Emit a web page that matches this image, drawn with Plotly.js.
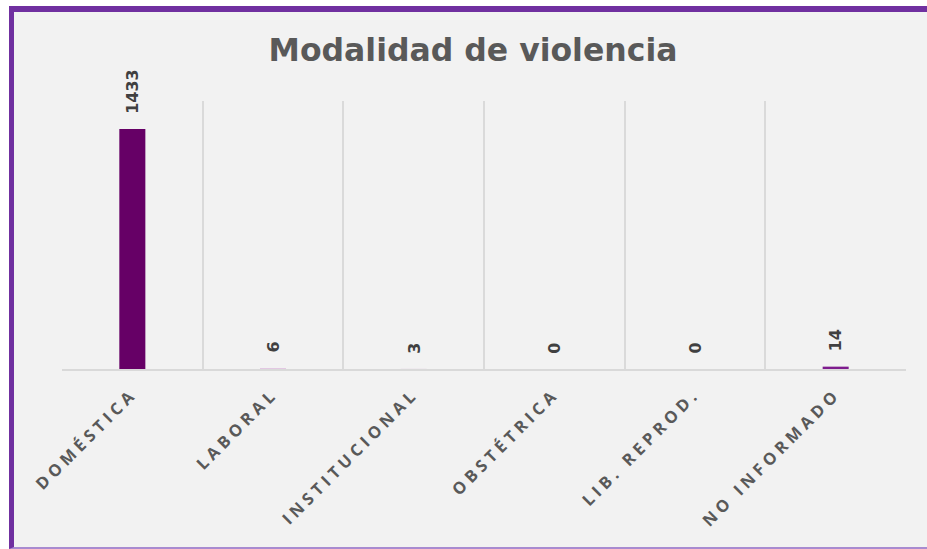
<!DOCTYPE html>
<html><head><meta charset="utf-8">
<script src="https://cdn.plot.ly/plotly-3.0.1.min.js"></script>
<style>
html,body{margin:0;padding:0;background:#ffffff;width:927px;height:549px;overflow:hidden;}
#frame{position:absolute;left:9px;top:6px;width:918px;height:543px;box-sizing:border-box;
 border-left:5px solid #7030a0;border-top:6px solid #7030a0;border-bottom:2px solid #a98bd0;background:#f2f2f2;}
#chart{width:913px;height:535px;}
.xtick text{letter-spacing:4.3px;}
</style></head>
<body>
<div id="frame"><div id="chart"></div></div>
<script>
const categories = ['DOMÉSTICA','LABORAL','INSTITUCIONAL','OBSTÉTRICA','LIB. REPROD.','NO INFORMADO'];
const values = [1433, 6, 3, 0, 0, 14];
const barColors = ['#660066','#e2c8e2','#ebe3eb','#b07ab0','#cc99cc','#7e1c8e'];

const trace = {
  type:'bar', x:categories, y:values,
  marker:{color:barColors},
  hoverinfo:'x+y'
};

const annotations = categories.map((c,i)=>({
  x:c, y:values[i], xref:'x', yref:'y',
  text:String(values[i]), textangle:-90, showarrow:false,
  xanchor:'center', yanchor:'bottom', yshift:13,
  font:{family:'DejaVu Sans, Verdana, sans-serif', size:16, color:'#404040', weight:'bold'}
}));

const layout = {
  width:913, height:535,
  paper_bgcolor:'#f2f2f2', plot_bgcolor:'#f2f2f2',
  margin:{l:48, r:21, t:89, b:178},
  title:{text:'<b>Modalidad de violencia</b>', x:459/913, xanchor:'center', xref:'container',
    y:1-38/535, yref:'container', yanchor:'middle',
    font:{family:'DejaVu Sans, Verdana, sans-serif', size:31.5, color:'#595959'}},
  bargap:0.815,
  xaxis:{type:'category', tickson:'boundaries', showgrid:true, gridcolor:'#dadada', gridwidth:2,
    ticks:'', showline:true, linecolor:'#d9d9d9', linewidth:2,
    tickangle:-45, ticklabelstandoff:7,
    tickfont:{family:'Open Sans, sans-serif', size:16.5, color:'#595959', weight:'bold'}},
  yaxis:{range:[0,1600], showgrid:false, zeroline:false, showticklabels:false, ticks:'', showline:false},
  annotations:annotations,
  showlegend:false
};
Plotly.newPlot('chart',[trace],layout,{displayModeBar:false, staticPlot:true});
</script>
</body></html>
